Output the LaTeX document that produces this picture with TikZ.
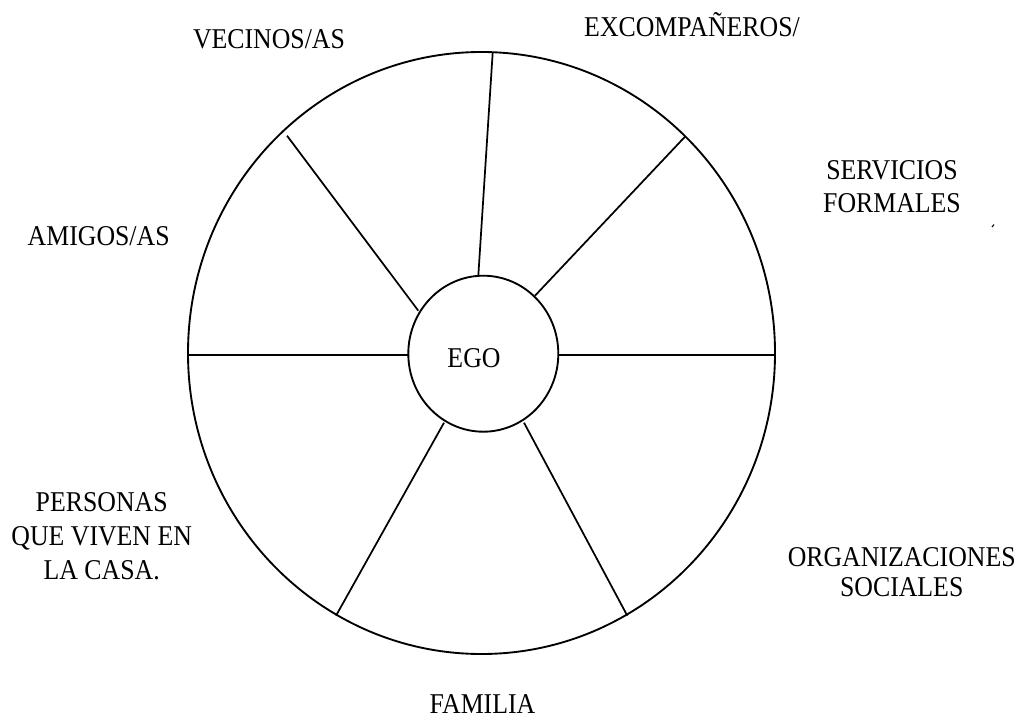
\documentclass[tikz,border=0pt]{standalone}
\usepackage{fontspec}
\setmainfont{Liberation Serif}[FakeStretch=0.9]
\usetikzlibrary{shapes.geometric}
\tikzset{
  lbl/.style={anchor=base, inner sep=0pt, font=\fontsize{21.5}{25.5}\selectfont},
  ring/.style={draw, line width=1.4pt, ellipse, inner sep=0pt},
  spoke/.style={line width=1.3pt}
}
\begin{document}
\begin{tikzpicture}[x=0.75pt,y=-0.75pt]
\useasboundingbox (0,0) rectangle (1019,720);
% circles
\node[ring, minimum width=440.25pt, minimum height=451.5pt] (big) at (481.5,353) {};
\node[ring, minimum width=112.5pt, minimum height=117pt] (ego) at (483.3,353.7) {};
% spoke endpoints
\coordinate (l1) at (188,355);   \coordinate (l2) at (408.5,355);
\coordinate (r1) at (774,355);   \coordinate (r2) at (558.2,355);
\coordinate (ul1) at (287,135.7); \coordinate (ul2) at (418.3,310.7);
\coordinate (t1) at (492.7,52.5); \coordinate (t2) at (478.3,275.8);
\coordinate (ur1) at (685,136.7); \coordinate (ur2) at (535,295.7);
\coordinate (ll1) at (336,615.7); \coordinate (ll2) at (444,422.7);
\coordinate (lr1) at (627.3,615.7); \coordinate (lr2) at (524,422.7);
\draw[spoke] (l1) -- (l2);
\draw[spoke] (r1) -- (r2);
\draw[spoke] (ul1) -- (ul2);
\draw[spoke] (t1) -- (t2);
\draw[spoke] (ur1) -- (ur2);
\draw[spoke] (ll1) -- (ll2);
\draw[spoke] (lr1) -- (lr2);
% labels
\node[lbl] (egot) at (474,367) {EGO};
\node[lbl] (vec) at (269,49) {VECINOS/AS};
\node[lbl] (exc) at (692,36.5) {EXCOMPAÑEROS/};
\node[lbl] (ser1) at (892,180) {SERVICIOS};
\node[lbl] (ser2) at (892,213) {FORMALES};
\node[lbl] (ami) at (98.7,245.5) {AMIGOS/AS};
\node[lbl] (per1) at (101.7,511.5) {PERSONAS};
\node[lbl] (per2) at (101.7,545.5) {QUE VIVEN EN};
\node[lbl] (per3) at (101.7,579.3) {LA CASA.};
\node[lbl] (org1) at (901.7,566) {ORGANIZACIONES};
\node[lbl] (org2) at (901.7,596.7) {SOCIALES};
\node[lbl, text depth=0pt] (fam) at (482.5,713) {FAMILIA};
% stray mark
\coordinate (m1) at (992,227); \coordinate (m2) at (994,224.5);
\draw[line width=0.8pt] (m1) -- (m2);
\end{tikzpicture}
\end{document}
